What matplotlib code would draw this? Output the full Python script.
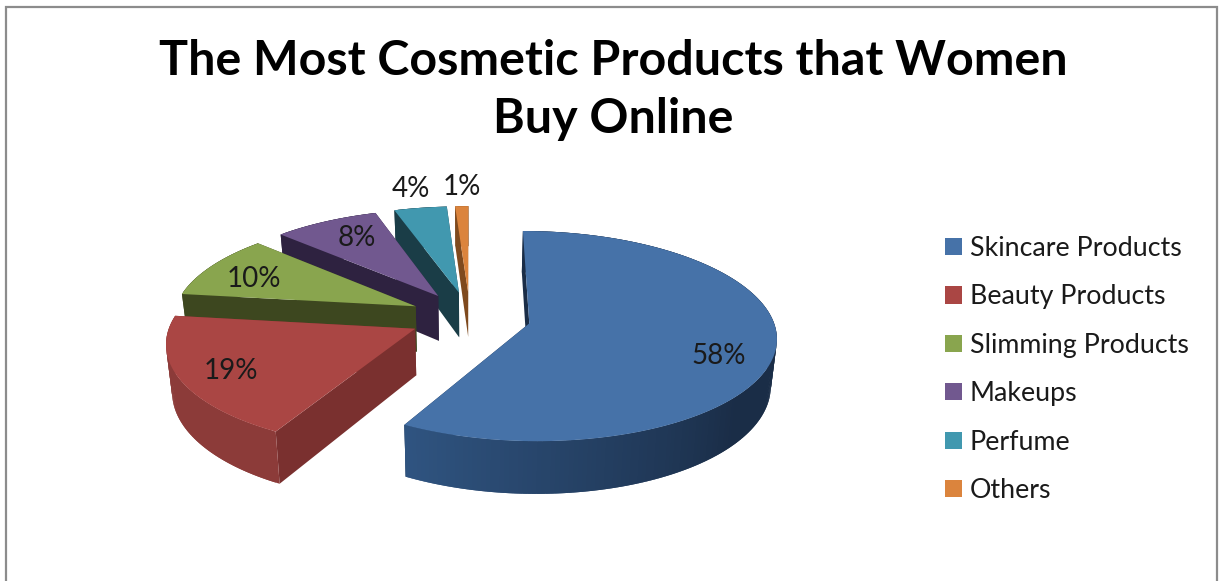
import numpy as np
import matplotlib
matplotlib.use('Agg')
import matplotlib.pyplot as plt
from matplotlib.patches import Patch
from matplotlib.colors import to_rgb

# Data
products = ['Skincare Products', 'Beauty Products', 'Slimming Products',
            'Makeups', 'Perfume', 'Others']
shares = [58, 19, 10, 8, 4, 1]
top_colors = ['#4672A8', '#AA4644', '#89A54E', '#71588F', '#4198AF', '#DB843D']
wall_colors = ['#1A2D47', '#7A302F', '#3D471F', '#2E2240', '#1A3D47', '#7F4A1E']
wall_light = ['#305582', '#8C3B39', '#3D471F', '#2E2240', '#1A3D47', '#7F4A1E']

plt.rcParams['font.family'] = ['Lato', 'DejaVu Sans']

fig = plt.figure(figsize=(12.19, 5.81), dpi=100)
ax = fig.add_axes([0, 0, 1, 1])
ax.set_xlim(0, 1219)
ax.set_ylim(581, 0)
ax.axis('off')

# Projection of the tilted pie
cx, cy = 470, 317
rx, ry = 243, 102
persp = 0.12
depth = 46
explode = 0.25


def project(u, v, z=0.0):
    s = 1 / (1 + persp * v)
    shrink = 1 - 0.02 * z
    return cx + rx * u * s * shrink, cy - ry * v * s + depth * z * s


edges = np.cumsum([0] + shares) / sum(shares) * 2 * np.pi
slices = []
for i in range(len(shares)):
    a0, a1 = edges[i], edges[i + 1]
    mid = (a0 + a1) / 2
    du, dv = explode * np.sin(mid), explode * np.cos(mid)
    th = np.linspace(a0, a1, max(int((a1 - a0) * 60), 6))
    slices.append((i, a0, a1, du, dv, th))

# back slices first so the front ones cover them
for i, a0, a1, du, dv, th in reversed(slices):
    u = du + np.sin(th)
    v = dv + np.cos(th)

    # flat cut walls
    for ang in (a0, a1):
        ue, ve = du + np.sin(ang), dv + np.cos(ang)
        x0, y0 = project(du, dv)
        x1, y1 = project(ue, ve)
        x2, y2 = project(ue, ve, 1)
        x3, y3 = project(du, dv, 1)
        ax.fill([x0, x1, x2, x3], [y0, y1, y2, y3], color=wall_colors[i], lw=0)

    # curved outer wall as overlapping strips, getting darker towards the right
    c0 = np.array(to_rgb(wall_colors[i]))
    c1 = np.array(to_rgb(wall_light[i]))
    for j in range(len(th) - 1):
        t = np.clip((np.degrees(th[j]) - 130) / 80, 0, 1)
        col = c0 + (c1 - c0) * t
        k = min(j + 2, len(th) - 1)
        xa, ya = project(u[j], v[j])
        xb, yb = project(u[k], v[k])
        xc, yc = project(u[k], v[k], 1)
        xd, yd = project(u[j], v[j], 1)
        ax.fill([xa, xb, xc, xd], [ya, yb, yc, yd], color=col, lw=0)

    # top face
    px, py = project(np.r_[du, u], np.r_[dv, v])
    ax.fill(px, py, color=top_colors[i], lw=0)

# Percent labels
label_xy = [(719, 356), (231, 371), (254, 279), (357, 238), (411, 189), (462, 187)]
for val, (lx, ly) in zip(shares, label_xy):
    ax.text(lx, ly, f'{val}%', ha='center', va='center', fontsize=20, color='#1a1a1a')

# Title
ax.text(613, 61, 'The Most Cosmetic Products that Women', ha='center', va='center',
        fontsize=34.8, fontweight='bold', color='black')
ax.text(613, 119, 'Buy Online', ha='center', va='center',
        fontsize=34.8, fontweight='bold', color='black')

# Legend
handles = [Patch(facecolor=c, edgecolor='none') for c in top_colors]
ax.legend(handles, products, loc='upper left', bbox_to_anchor=(945 / 1219, 1 - 236 / 581),
          frameon=False, fontsize=19.3, handlelength=0.63, handleheight=0.6,
          handletextpad=0.3, labelspacing=0.875, borderpad=0, borderaxespad=0,
          labelcolor='#1a1a1a')

# Chart frame, open at the bottom
ax.plot([6, 6, 1217, 1217], [581, 7, 7, 581], color='#8C8C8C', lw=1.6, solid_joinstyle='miter')

fig.savefig('out.png', dpi=100)
